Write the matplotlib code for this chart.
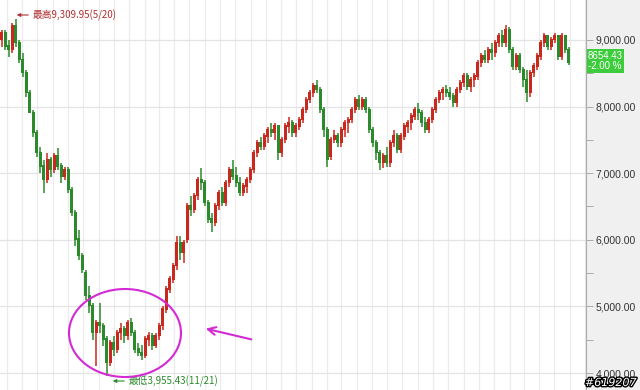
import numpy as np
import pandas as pd
import matplotlib
matplotlib.use("Agg")
import matplotlib.pyplot as plt
from matplotlib.patches import Ellipse, Rectangle
import matplotlib.patheffects as pe

# weekly OHLC (week starting dates)
week_start = "2008-04-21"
opens = [9000, 9100, 8900, 8850, 9200, 8950, 8700, 8500, 8200, 7900,
         7600, 7300, 7100, 6900, 7200, 7050, 7250, 7100, 6950, 7050,
         6750, 6400, 6000, 5750, 5500, 5150, 5000, 4600, 4750, 4700,
         4500, 4150, 4450, 4350, 4600, 4650, 4550, 4750, 4600, 4350,
         4300, 4250, 4500, 4550, 4400, 4550, 4700, 4950, 5250, 5400,
         5600, 5950, 5800, 6000, 6500, 6450, 6650, 6900, 6850, 6550,
         6300, 6250, 6500, 6700, 6550, 6850, 7050, 6950, 6850, 6700,
         6800, 6900, 7050, 7300, 7450, 7400, 7550, 7650, 7600, 7700,
         7300, 7500, 7700, 7750, 7600, 7700, 7800, 7950, 8100, 8200,
         8300, 8250, 7950, 7650, 7250, 7500, 7550, 7450, 7650, 7750,
         7800, 7950, 8100, 8000, 8100, 7950, 7650, 7450, 7300, 7150,
         7250, 7150, 7450, 7550, 7350, 7550, 7700, 7750, 7850, 7950,
         7900, 7750, 7650, 7800, 7950, 8100, 8200, 8250, 8200, 8150,
         8050, 8250, 8350, 8450, 8300, 8400, 8450, 8650, 8750, 8700,
         8850, 8800, 8950, 9050, 8950, 9150, 8850, 8600, 8750, 8550,
         8400, 8200, 8500, 8600, 8750, 8950, 9050, 8900, 9000, 9050,
         8750, 9050, 8850]
highs = [9150, 9150, 9000, 9250, 9310, 9000, 8800, 8550, 8250, 7950,
         7650, 7400, 7200, 7300, 7250, 7300, 7380, 7150, 7100, 7100,
         6800, 6450, 6150, 5800, 5550, 5300, 5050, 4800, 5050, 4750,
         4550, 4500, 4550, 4650, 4750, 4700, 4800, 4830, 4650, 4450,
         4420, 4550, 4620, 4600, 4600, 4750, 5000, 5300, 5450, 5650,
         6050, 6050, 6000, 6550, 6650, 6700, 6950, 7080, 6900, 6600,
         6400, 6550, 6750, 6800, 6900, 7100, 7200, 7100, 6950, 6850,
         6950, 7100, 7350, 7500, 7550, 7600, 7700, 7750, 7750, 7720,
         7550, 7750, 7850, 7800, 7750, 7850, 8000, 8150, 8250, 8350,
         8400, 8300, 8000, 7700, 7550, 7650, 7600, 7700, 7800, 7850,
         8000, 8150, 8170, 8150, 8150, 8000, 7700, 7500, 7350, 7300,
         7400, 7500, 7650, 7600, 7600, 7750, 7800, 7900, 8000, 8050,
         7950, 7850, 7850, 8000, 8150, 8250, 8300, 8320, 8300, 8200,
         8300, 8400, 8500, 8500, 8450, 8500, 8700, 8800, 8850, 8900,
         8950, 9000, 9100, 9150, 9220, 9200, 8900, 8800, 8800, 8600,
         8550, 8550, 8650, 8800, 9000, 9100, 9080, 9050, 9100, 9080,
         9100, 9080, 8900]
lows = [8900, 8850, 8750, 8800, 8900, 8650, 8450, 8150, 7950, 7550,
        7250, 7000, 6700, 6850, 6950, 7000, 7050, 6850, 6900, 6700,
        6350, 5900, 5700, 5500, 5100, 4900, 4500, 4100, 4600, 4400,
        3955, 4100, 4250, 4300, 4500, 4450, 4500, 4550, 4300, 4250,
        4200, 4230, 4400, 4350, 4380, 4500, 4650, 4900, 5200, 5350,
        5550, 5700, 5650, 5950, 6350, 6400, 6600, 6750, 6500, 6250,
        6120, 6200, 6450, 6500, 6500, 6800, 6900, 6800, 6650, 6650,
        6700, 6850, 7000, 7250, 7350, 7350, 7450, 7550, 7500, 7200,
        7250, 7450, 7600, 7550, 7550, 7650, 7750, 7900, 8050, 8150,
        8200, 7900, 7550, 7090, 7200, 7450, 7400, 7400, 7550, 7600,
        7750, 7900, 7950, 7950, 7900, 7600, 7400, 7200, 7050, 7080,
        7100, 7100, 7400, 7300, 7300, 7500, 7600, 7650, 7800, 7800,
        7700, 7600, 7600, 7750, 7900, 8050, 8100, 8150, 8100, 8000,
        8000, 8200, 8300, 8250, 8220, 8300, 8400, 8600, 8650, 8650,
        8700, 8750, 8900, 8900, 8900, 8800, 8550, 8550, 8500, 8300,
        8070, 8150, 8450, 8550, 8700, 8900, 8850, 8850, 8950, 8700,
        8700, 8800, 8620]
closes = [9100, 8900, 8850, 9200, 8950, 8700, 8500, 8200, 7900, 7600,
          7300, 7100, 6900, 7200, 7050, 7250, 7100, 6950, 7050, 6750,
          6400, 6000, 5750, 5550, 5150, 5000, 4600, 4750, 4700, 4500,
          4150, 4450, 4350, 4600, 4650, 4550, 4750, 4600, 4350, 4300,
          4250, 4500, 4550, 4400, 4550, 4700, 4950, 5250, 5400, 5600,
          5950, 5800, 5950, 6500, 6450, 6650, 6900, 6850, 6550, 6300,
          6250, 6500, 6700, 6550, 6850, 7050, 6950, 6850, 6700, 6800,
          6900, 7050, 7300, 7450, 7400, 7550, 7650, 7600, 7700, 7300,
          7500, 7700, 7750, 7600, 7700, 7800, 7950, 8100, 8200, 8300,
          8250, 7950, 7650, 7200, 7500, 7550, 7450, 7650, 7750, 7800,
          7950, 8100, 8000, 8100, 7950, 7650, 7450, 7300, 7150, 7250,
          7150, 7450, 7550, 7350, 7550, 7700, 7750, 7850, 7950, 7900,
          7750, 7650, 7800, 7950, 8100, 8200, 8250, 8200, 8150, 8050,
          8250, 8350, 8450, 8300, 8400, 8450, 8650, 8750, 8700, 8850,
          8800, 8950, 9050, 8950, 9150, 8850, 8600, 8750, 8550, 8400,
          8200, 8500, 8600, 8750, 8950, 9050, 8900, 9000, 9050, 8750,
          9050, 8850, 8654.43]

last_close = "8654.43"
last_change = "-2.00 %"
hi_label = "最高9,309.95(5/20)"
lo_label = "最低3,955.43(11/21)"
y_ticks = [4000, 5000, 6000, 7000, 8000, 9000]

UP = "#c8281e"
DOWN = "#2b8a2b"
CJK = ["Noto Sans CJK TC", "DejaVu Sans"]

origin = pd.Timestamp("2008-05-01")
dates = pd.date_range(week_start, periods=len(closes), freq="W-MON")
xs = np.array((dates - origin).days) / 30.44
months = pd.date_range(origin, periods=39, freq="MS")
mx = np.array((months - origin).days) / 30.44

o = np.array(opens, float)
h = np.array(highs, float)
l = np.array(lows, float)
c = np.array(closes, float)
cols = np.where(c >= o, UP, DOWN)

fig = plt.figure(figsize=(6.4, 3.9), dpi=100)
fig.add_artist(Rectangle((586 / 640, 0), 54 / 640, 1, transform=fig.transFigure,
                         facecolor="#f0f0f0", edgecolor="none", zorder=-5))
ax = fig.add_axes([0, 0, 586 / 640, 1])
ax.set_xlim(-0.44, 38.06)
ax.set_ylim(3745, 9600)

for x in mx:
    ax.axvline(x, color="#ececec", lw=0.9, zorder=0)
for y in y_ticks:
    ax.axhline(y, color="#e4e4e4", lw=0.9, zorder=0)

bw = 0.2
ax.vlines(xs, l, h, colors=cols, lw=1.1, zorder=2)
ax.bar(xs, np.abs(c - o) + 20, bottom=np.minimum(o, c), width=bw,
       color=cols, edgecolor="none", zorder=3)

ax.set_xticks([])
ax.yaxis.tick_right()
ax.set_yticks(y_ticks)
ax.set_yticks([4500, 5500, 6500, 7500, 8500], minor=True)
ax.set_yticklabels([f"{v:,.2f}" for v in y_ticks], family="Liberation Sans",
                   fontsize=7.5, color="#333333")
ax.tick_params(axis="y", which="both", direction="out", length=5, width=0.7,
               color="#aaaaaa", pad=2)
for s in ["left", "top", "bottom"]:
    ax.spines[s].set_visible(False)
ax.spines["right"].set_color("#aaaaaa")
ax.spines["right"].set_linewidth(0.8)

def px(x, y):
    return ax.transData.inverted().transform(
        ax.transAxes.transform((x / 586, 1 - y / 390)))

# high / low annotations
ax.annotate("", xy=px(14, 15), xytext=px(31, 15),
            arrowprops=dict(arrowstyle="-|>", color="#b03030", lw=0.8,
                            mutation_scale=5))
ax.text(*px(33, 15), hi_label, color="#b03030", fontsize=7, family=CJK,
        va="center", ha="left")
ax.annotate("", xy=px(110, 381), xytext=px(127, 381),
            arrowprops=dict(arrowstyle="-|>", color=DOWN, lw=0.8,
                            mutation_scale=5))
ax.text(*px(129, 381), lo_label, color=DOWN, fontsize=7, family=CJK,
        va="center", ha="left")

# magenta ellipse + arrow drawn in pixel space
pix = ax.transAxes
ell = Ellipse((125 / 586, 1 - 333 / 390), 112 / 586, 88 / 390, transform=pix,
              fill=False, edgecolor="#d42ad4", lw=1.5, zorder=5)
ax.add_patch(ell)
ax.annotate("", xy=(203 / 586, 1 - 328 / 390), xytext=(254 / 586, 1 - 340 / 390),
            xycoords="axes fraction", textcoords="axes fraction",
            arrowprops=dict(arrowstyle="->", color="#d42ad4", lw=1.5,
                            mutation_scale=14))

# last price box
fig.text(588 / 640, 1 - 61 / 390, last_close + "\n" + last_change, color="white",
         fontsize=7, family="Liberation Sans", ha="left", va="center",
         linespacing=1.05,
         bbox=dict(boxstyle="square,pad=0.15", facecolor="#3ccc3c",
                   edgecolor="none"))

fig.text(637 / 640, 1 - 383 / 390, "#619207", color="white", fontsize=8,
         family="DejaVu Sans", style="italic", ha="right", va="center",
         path_effects=[pe.withStroke(linewidth=2, foreground="black")])

fig.savefig("out.png", dpi=100)
